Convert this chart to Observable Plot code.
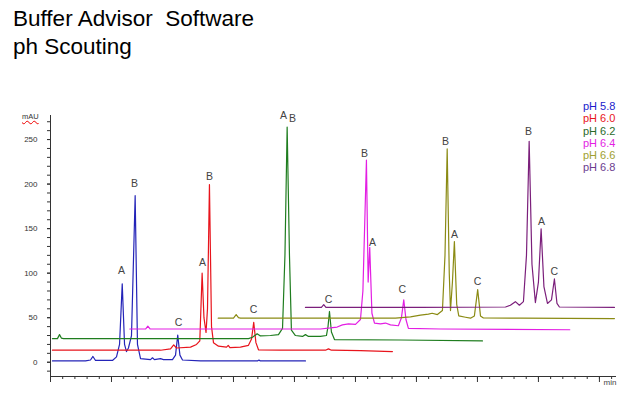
<!DOCTYPE html>
<html><head><meta charset="utf-8">
<script src="https://cdn.jsdelivr.net/npm/d3@7"></script>
<script src="https://cdn.jsdelivr.net/npm/@observablehq/plot@0.6"></script>
<style>
html,body{margin:0;padding:0;background:#fff}
body{width:624px;height:393px;overflow:hidden;position:relative;font-family:"Liberation Sans",Arial,sans-serif}
#title{position:absolute;left:13px;top:5px;font-size:22.5px;line-height:28px;white-space:pre;color:#000;z-index:2}
#chart{position:absolute;left:0;top:70px;z-index:1}
#legend{position:absolute;left:583px;top:100px;font-size:11px;line-height:12.3px;white-space:pre;z-index:2}
#mau{position:absolute;left:22px;top:112px;font-size:7.5px;color:#333;text-decoration:underline wavy #e00;text-decoration-thickness:1px;z-index:2}
</style></head>
<body>
<div id="title">Buffer Advisor  Software
ph Scouting</div>
<div id="mau">mAU</div>
<div id="legend"></div>
<div id="chart"></div>
<script>
// series names and colours
const seriesNames = ["pH 5.8", "pH 6.0", "pH 6.2", "pH 6.4", "pH 6.6", "pH 6.8"];
const lineColors  = ["#2424b8", "#e8141c", "#1f7d1f", "#e31ee3", "#8b8b14", "#7b1f7b"];
const legendColors = ["#1a1acc", "#e8141c", "#2a6a2a", "#e31ee3", "#a0a030", "#6b3d8f"];

// retention time (min) and absorbance (mAU)
const t58 = [0.16,2.87,3.28,3.48,3.69,5.08,5.41,5.66,5.88,6.07,6.23,6.39,6.64,6.94,7.13,7.38,8.2,8.36,8.52,9.02,9.26,10.0,10.25,10.43,10.61,10.82,12.3,16.97,17.09,17.2,20.9];
const v58 = [1.5,1.5,2.5,6.5,2,2,6,20,88,20,12,16,30,187,20,4,3,5,3,4,3,3,8,30.6,8,2.5,1.5,1.5,2.5,1.5,1.5];

const t60 = [0.16,9.02,9.84,10.1,10.33,11.48,11.97,12.24,12.43,12.58,12.75,12.87,13.03,13.2,13.36,13.77,14.43,14.57,14.71,15.57,16.23,16.48,16.66,16.84,17.05,18.85,22.54,22.79,23.03,25.41,28.03];
const v60 = [13.5,13.5,15,19.5,16,17,20,24,100,50,33.5,60,199.5,40,22,18,17,19,16.5,17,19,26,44.7,22,14,13.5,13.5,15,13.5,13,12];

const t62 = [0.16,0.57,0.74,0.9,1.07,16.23,16.56,16.94,17.21,18.03,18.69,19.02,19.22,19.4,19.59,19.75,20.08,20.66,20.9,21.15,22.13,22.62,22.75,22.87,23.03,23.28,28.69,35.41];
const v62 = [26.5,26.5,31,27,26.5,26.5,28,32,29.5,30,31,38,120,264,120,36,30,29,31,29,29,30,40,57,34,25.5,25,24];

const t64 = [6.5,7.79,7.98,8.16,8.36,22.13,22.95,23.5,23.93,24.43,25.0,25.41,25.61,25.9,26.04,26.17,26.35,26.56,27.05,27.46,27.87,28.52,28.77,28.96,29.14,29.34,31.97,42.57];
const v64 = [37.3,37.3,40.5,37.5,37.3,37.3,38.5,39.5,42,43,42.5,48,80,227,90,129,55,44,43,44,42,41,50,70,48,38,37.3,36.5];

const t66 = [13.75,15.0,15.22,15.41,15.57,28.28,29.51,30.33,30.98,31.29,31.72,32.13,32.34,32.52,32.69,32.79,32.95,33.11,33.3,33.47,34.02,34.43,34.75,35.02,35.25,35.49,38.52,46.23];
const v66 = [49.5,49.5,53.5,50,49.5,49.5,51,53,54,55,53.5,58,120,239.5,100,58,90,135.4,65,52,50.5,49.5,52,81.5,52,49.7,49.5,49];

const t68 = [20.9,22.21,22.4,22.58,30.33,37.3,37.7,38.11,38.44,38.77,39.02,39.24,39.47,39.75,40.0,40.22,40.45,40.74,41.07,41.31,41.52,41.72,46.23];
const v68 = [61.6,61.6,64.6,61.6,61.6,62,64,68,64,68,120,248,110,67,90,149.7,85,66,70,93.5,66,62,61.6];

// peak labels
const peakText = ["A","B","C","A","B","C","A","B","C","B","A","C","B","A","C","B","A","C"];
const peakT    = [5.82,6.89,10.49,12.46,13.03,16.64,19.1,19.84,22.79,25.74,26.39,28.85,32.38,33.11,35.0,39.18,40.25,41.31];
const peakV    = [102.8,200.6,44.4,111.8,208.4,59,277,273.6,70.2,234.3,134.3,81.5,247.8,143.3,90.4,258.9,157.9,101.7];

// axis ticks
const yMinorTicks = d3.range(-10, 280, 10);
const yMajorTicks = [0, 50, 100, 150, 200, 250];
const xMinorTicks = d3.range(0, 47, 1);
const xMajorTicks = d3.range(0, 47, 5);

const allT = [t58, t60, t62, t64, t66, t68];
const allV = [v58, v60, v62, v64, v66, v68];
const rows = [];
seriesNames.forEach((s, i) => allT[i].forEach((t, j) => rows.push({series: s, t, v: allV[i][j]})));
const labels = peakText.map((text, i) => ({text, t: peakT[i], v: peakV[i]}));

const chart = Plot.plot({
  width: 624, height: 323,
  marginLeft: 50, marginRight: 8, marginTop: 45, marginBottom: 17,
  x: {domain: [0, 46.4]},
  y: {domain: [-16, 277]},
  color: {domain: seriesNames, range: lineColors},
  style: {fontFamily: "Liberation Sans, Arial, sans-serif", fontSize: "8px", color: "#333", background: "transparent", overflow: "visible"},
  marks: [
    Plot.axisY({ticks: yMinorTicks, tickSize: 3, text: null, label: null, stroke: "#333"}),
    Plot.axisY({ticks: yMajorTicks, tickSize: 3, tickPadding: 10, label: null, fill: "#333"}),
    Plot.axisX({ticks: xMinorTicks, tickSize: 3, text: null, label: null}),
    Plot.axisX({ticks: xMajorTicks, tickSize: 6, text: null, label: null}),
    Plot.ruleX([0], {stroke: "#333"}),
    Plot.ruleY([-16], {stroke: "#333"}),
    Plot.line(rows, {x: "t", y: "v", z: "series", stroke: "series", strokeWidth: 1.2}),
    Plot.text(labels, {x: "t", y: "v", text: "text", fill: "#444", fontSize: 10.5}),
    Plot.text(["min"], {text: d => d, frameAnchor: "bottom-right", dy: 8, fill: "#444", fontSize: 8})
  ]
});
document.getElementById("chart").appendChild(chart);

const legend = document.getElementById("legend");
seriesNames.forEach((s, i) => {
  const d = document.createElement("div");
  d.textContent = s;
  d.style.color = legendColors[i];
  legend.appendChild(d);
});
</script>
</body></html>
